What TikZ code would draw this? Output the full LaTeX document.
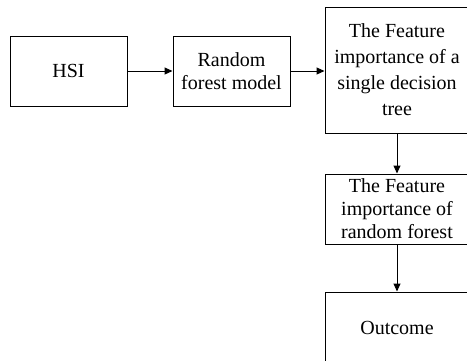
\documentclass[tikz,border=0pt]{standalone}
\usepackage{fontspec}
\setmainfont{Liberation Serif}
\usetikzlibrary{arrows.meta, positioning}
\tikzset{
	blk/.style ={rectangle, draw=black, line width=1pt, align=center, inner sep=0pt, minimum height=70pt},
	sig/.style ={-{Triangle[length=8pt, width=7pt]}, line width=1pt},
}

\begin{document}
\begin{tikzpicture}[x=1pt, y=-1pt, font=\fontsize{20}{23}\selectfont]
	\clip (0,0) rectangle (467,360);
	\node[blk, minimum width=117pt] (hsi) at (68.5,71) {HSI};
	\node[blk, minimum width=117pt] (rfm) at (231.5,71) {Random\\forest model};
	\node[blk, minimum width=144pt, minimum height=126pt, font=\fontsize{20}{26}\selectfont] (tree) at (397,70) {The Feature\\importance of a\\single decision\\tree};
	\node[blk, minimum width=144pt] (imp) at (397,209) {The Feature\\importance of\\random forest};
	\node[blk, minimum width=144pt, minimum height=72pt] (out) at (397,328) {Outcome};
	% connectors
	\draw[sig] (hsi) -- (rfm);
	\draw[sig] (rfm.east) -- (tree.west |- rfm.east);
	\draw[sig] (tree) -- (imp);
	\draw[sig] (imp) -- (out);
\end{tikzpicture}
\end{document}
